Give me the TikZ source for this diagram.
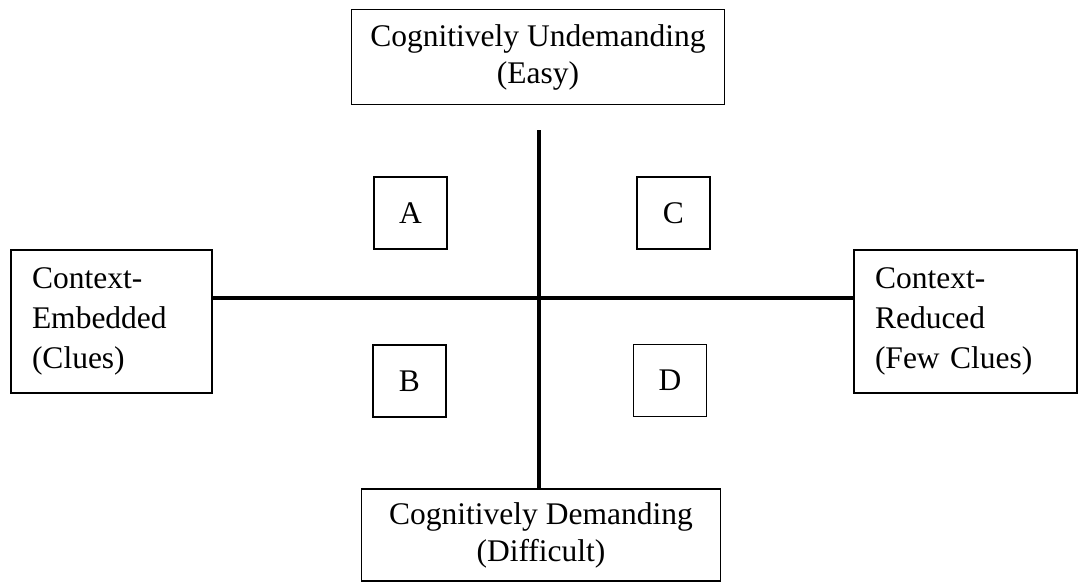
\documentclass[tikz,border=0pt]{standalone}
\usepackage{fontspec}
\setmainfont{Liberation Serif}
\usepackage{tikz}
\usetikzlibrary{calc, positioning}

\begin{document}
\begin{tikzpicture}[x=1pt, y=-1pt, line width=1.8pt,
    every node/.style={font=\fontsize{31.5}{37}\selectfont},
    pole/.style={draw, align=center, inner sep=0pt},
    side/.style={draw, align=left, inner xsep=21pt, inner ysep=0pt,
        font=\fontsize{31.5}{40}\selectfont},
    quad/.style={draw, inner sep=0pt, minimum width=73pt, minimum height=72pt},
    axis/.style={line width=4.5pt}]
    % Frame
    \useasboundingbox (0,0) rectangle (1080,582);

    % Demand poles (top and bottom)
    \node[pole, minimum width=373pt, minimum height=95pt] (easy) at (538,57) {Cognitively Undemanding\\(Easy)};
    \node[pole, minimum width=359pt, minimum height=92pt] (hard) at (541,535) {Cognitively Demanding\\(Difficult)};

    % Context poles (left and right)
    \node[side, text width=159pt, minimum height=143pt] (embedded) at (111.5,321.5) {Context-\\Embedded\\(Clues)};
    \node[side, text width=181pt, minimum height=143pt] (reduced) at (965.5,321.5) {Context-\\Reduced\\(Few Clues)};

    % Quadrant boxes
    \node[quad] (qa) at (410.5,213) {A};
    \node[quad] (qc) at (673.5,213) {C};
    \node[quad] (qb) at (409.5,381) {B};
    \node[quad] (qd) at (670,380.5) {D};

    % Axes
    \coordinate (centre) at (539,298);
    \coordinate (vtop) at (539,130);
    \draw[axis] (vtop) -- (vtop |- hard.north);
    \draw[axis, line width=3.5pt] (centre -| embedded.east) -- (centre -| reduced.west);

\end{tikzpicture}
\end{document}
